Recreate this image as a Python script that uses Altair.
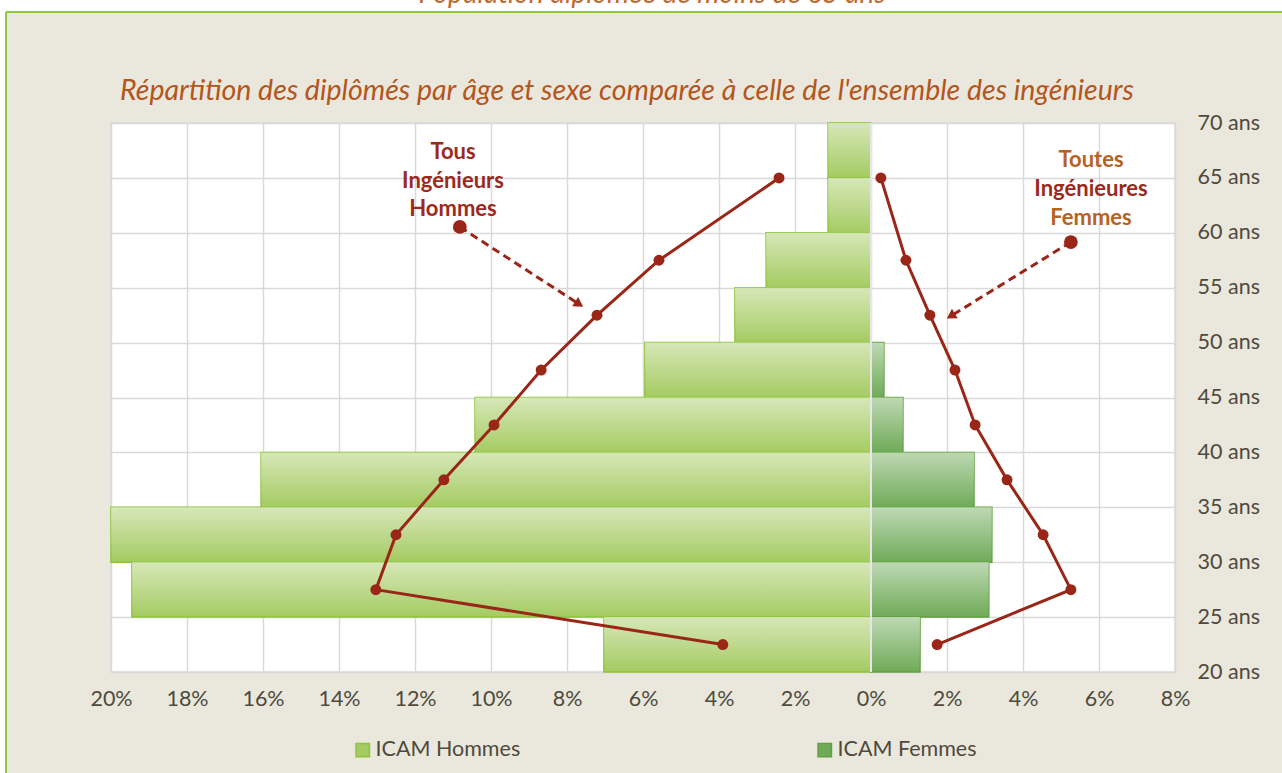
import altair as alt
import pandas as pd

# ---------------- data ----------------
ages_start = [20, 25, 30, 35, 40, 45, 50, 55, 60, 65]
icam_hommes = [-7.03, -19.45, -20.0, -16.05, -10.42, -5.95, -3.58, -2.76, -1.13, -1.13]
icam_femmes = [1.29, 3.10, 3.18, 2.71, 0.84, 0.34, 0.0, 0.0, 0.0, 0.0]

line_ages = [22.5, 27.5, 32.5, 37.5, 42.5, 47.5, 52.5, 57.5, 65]
tous_hommes = [-3.9, -13.03, -12.5, -11.24, -9.92, -8.68, -7.21, -5.58, -2.42]
toutes_femmes = [1.74, 5.26, 4.53, 3.58, 2.74, 2.21, 1.55, 0.92, 0.26]

x_ticks = list(range(-20, 9, 2))
y_ticks = list(range(20, 71, 5))

series_names = ["ICAM Hommes", "ICAM Femmes"]

# annotation data
ann_text = pd.DataFrame({
    "x": [-11.0, -11.0, -11.0, 5.79, 5.79, 5.79],
    "y": [67.36, 64.72, 62.17, 66.63, 63.99, 61.35],
    "t": ["Tous", "Ingénieurs", "Hommes", "Toutes", "Ingénieures", "Femmes"],
    "c": ["#9B2A1C", "#9B2A1C", "#9B2A1C", "#B8621F", "#9B2A1C", "#B8621F"],
})
arrows = pd.DataFrame({
    "x": [-10.82, 5.26], "y": [60.53, 59.16],
    "x2": [-7.68, 2.10], "y2": [53.5, 52.42],
    "ang": [33, 148],
})

# ---------------- tables ----------------
rows = []
for a, h, f in zip(ages_start, icam_hommes, icam_femmes):
    rows.append({"series": series_names[0], "age": a, "age_end": a + 5, "value": h, "zero": 0})
    rows.append({"series": series_names[1], "age": a, "age_end": a + 5, "value": f, "zero": 0})
bars_df = pd.DataFrame(rows)
bars_df = bars_df[bars_df["value"] != 0]

lines_df = pd.DataFrame(
    [{"s": "H", "age": a, "value": v} for a, v in zip(line_ages, tous_hommes)]
    + [{"s": "F", "age": a, "value": v} for a, v in zip(line_ages, toutes_femmes)]
)

W, H = 1064, 549
FONT = "Lato"
LABEL_COLOR = "#4F4A3C"
RED = "#9A2617"
LBL = 21.5

xscale = alt.Scale(domain=[-20, 8], nice=False, zero=False)
yscale = alt.Scale(domain=[20, 70], nice=False, zero=False)
xaxis = alt.Axis(values=x_ticks, labelExpr="abs(datum.value) + '%'", title=None,
                 ticks=False, domain=False, labelPadding=16, labelFontSize=LBL, labelFlush=False,
                 labelColor=LABEL_COLOR, labelFont=FONT, gridColor="#D9D9D9", gridWidth=1.5)
yaxis = alt.Axis(values=y_ticks, labelExpr="datum.value + ' ans'", title=None, orient="right",
                 ticks=False, domain=False, labelPadding=22, labelFontSize=LBL, labelAlign="left",
                 labelFlush=False,
                 labelColor=LABEL_COLOR, labelFont=FONT, gridColor="#D9D9D9", gridWidth=1.5)

def X(field):
    return alt.X(field, type="quantitative", scale=xscale, axis=xaxis)

def Y(field):
    return alt.Y(field, type="quantitative", scale=yscale, axis=yaxis)

dummy = alt.Chart(pd.DataFrame({"a": [0]}))

# decoration: white strip on top / left and green border line
white_top = dummy.mark_rect(color="white").encode(
    x=alt.value(-111), x2=alt.value(W + 107), y=alt.value(-123), y2=alt.value(-111))
white_left = dummy.mark_rect(color="white").encode(
    x=alt.value(-111), x2=alt.value(-105), y=alt.value(-123), y2=alt.value(H + 101))
green_h = dummy.mark_rule(color="#92C83E", strokeWidth=2).encode(
    x=alt.value(-105), x2=alt.value(W + 107), y=alt.value(-111))
green_v = dummy.mark_rule(color="#92C83E", strokeWidth=2).encode(
    x=alt.value(-105), y=alt.value(-111), y2=alt.value(H + 101))

legend = alt.Legend(orient="none", legendX=241, legendY=616, direction="horizontal",
                    title=None, columnPadding=293, labelFontSize=LBL, labelFont=FONT,
                    labelColor=LABEL_COLOR, symbolType="square", symbolSize=180,
                    symbolStrokeWidth=1.5, labelOffset=2)

bars = alt.Chart(bars_df).mark_bar(strokeWidth=1.5).encode(
    x=X("value"), x2="zero",
    y=Y("age"), y2="age_end",
    fill=alt.Fill("series:N", scale=alt.Scale(domain=series_names, range=["#A5CB62", "#70AA58"]),
                  legend=legend),
    stroke=alt.Stroke("series:N", scale=alt.Scale(domain=series_names, range=["#8DC43A", "#5FA13F"]),
                      legend=legend),
)

gloss = alt.Chart(bars_df).mark_bar(
    fill=alt.Gradient(gradient="linear",
                      stops=[alt.GradientStop(color="rgba(255,255,255,0.55)", offset=0),
                             alt.GradientStop(color="rgba(255,255,255,0.0)", offset=1)],
                      x1=0, x2=0, y1=0, y2=1),
    strokeWidth=0,
).encode(x=X("value"), x2="zero", y=Y("age"), y2="age_end")

zero_rule = dummy.mark_rule(color="#E6E6E6", strokeWidth=2).encode(
    x=alt.datum(0, type="quantitative", scale=xscale, axis=xaxis),
    y=alt.datum(20, type="quantitative", scale=yscale, axis=yaxis), y2=alt.datum(70))

lines = alt.Chart(lines_df).mark_line(color=RED, strokeWidth=3).encode(
    x=X("value"), y=Y("age"), detail="s:N", order="age:Q")
points = alt.Chart(lines_df).mark_circle(color=RED, opacity=1, size=120).encode(
    x=X("value"), y=Y("age"))

arrow_lines = alt.Chart(arrows).mark_rule(color=RED, strokeWidth=3, strokeDash=[8, 5]).encode(
    x=X("x"), y=Y("y"), x2="x2", y2="y2")
arrow_heads = alt.Chart(arrows).mark_point(shape="triangle-right", filled=True, color=RED,
                                            opacity=1, size=120).encode(
    x=X("x2"), y=Y("y2"), angle=alt.Angle("ang:Q", scale=None))
arrow_dots = alt.Chart(arrows).mark_circle(color=RED, opacity=1, size=190).encode(
    x=X("x"), y=Y("y"))

ann = alt.Chart(ann_text).mark_text(font=FONT, fontSize=22, fontWeight="bold",
                                    baseline="middle", align="center").encode(
    x=X("x"), y=Y("y"), text="t:N", color=alt.Color("c:N", scale=None))

title_top = dummy.mark_text(text="Population diplômée de moins de 65 ans", font=FONT,
                            fontSize=28, fontStyle="italic", color="#C06A30",
                            align="center", baseline="alphabetic").encode(
    x=alt.value(652 - 111), y=alt.value(3 - 123))
subtitle = dummy.mark_text(text="Répartition des diplômés par âge et sexe comparée à celle de l'ensemble des ingénieurs",
                           font=FONT, fontSize=28.5, fontStyle="italic", color="#B4551C",
                           align="center", baseline="alphabetic").encode(
    x=alt.value(627 - 111), y=alt.value(100 - 123))

chart = alt.layer(
    white_top, white_left, green_h, green_v,
    bars, gloss, zero_rule, lines, points,
    arrow_lines, arrow_heads, arrow_dots, ann,
    title_top, subtitle,
).properties(
    width=W, height=H,
    autosize=alt.AutoSizeParams(type="none"),
    padding={"left": 111, "top": 123, "right": 107, "bottom": 101},
    background="#EAE7DD",
).configure_view(fill="white", stroke="#D9D9D9", strokeWidth=1.5)

chart.save("out.html", embed_options={"renderer": "svg", "actions": False})
